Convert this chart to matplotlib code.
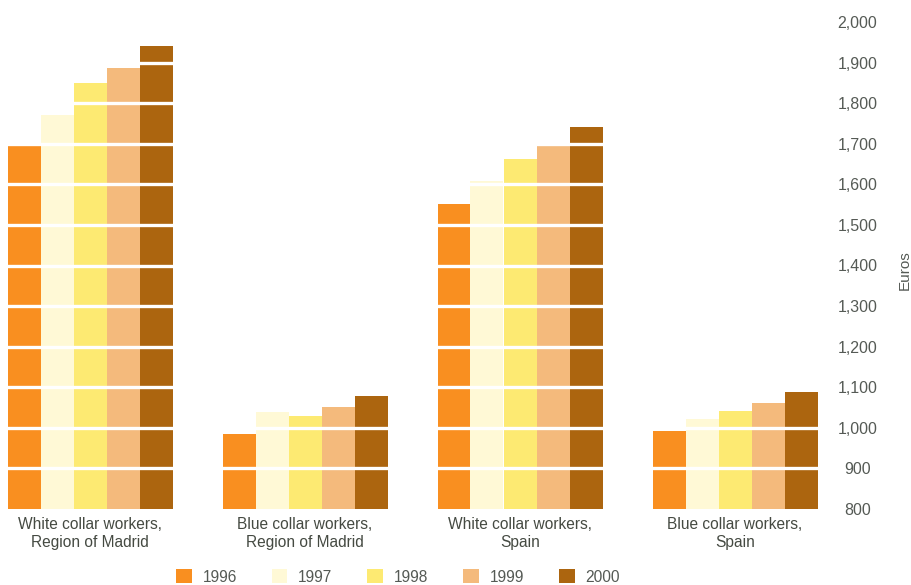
import matplotlib
matplotlib.use("Agg")
import matplotlib.pyplot as plt
import numpy as np

plt.rcParams['font.family'] = ['Liberation Sans', 'DejaVu Sans']

categories = ["White collar workers,\nRegion of Madrid", "Blue collar workers,\nRegion of Madrid",
              "White collar workers,\nSpain", "Blue collar workers,\nSpain"]
years = ["1996", "1997", "1998", "1999", "2000"]
values = {
    "1996": [1697, 985, 1551, 992],
    "1997": [1770, 1039, 1607, 1022],
    "1998": [1849, 1029, 1662, 1041],
    "1999": [1886, 1051, 1699, 1061],
    "2000": [1940, 1078, 1741, 1088],
}
colors = ["#F98F20", "#FFF9D6", "#FDEA72", "#F4BA7C", "#AC650F"]
yticks = [800, 900, 1000, 1100, 1200, 1300, 1400, 1500, 1600, 1700, 1800, 1900, 2000]

W, H = 911, 585
fig = plt.figure(figsize=(W / 100, H / 100), dpi=100)
ax = fig.add_axes([0, (H - 509) / H, 820 / W, (509 - 22) / H])

x = np.arange(len(categories))
bw = 165 / 215 / 5
for i, yr in enumerate(years):
    ax.bar(x + (i - 2) * bw, np.array(values[yr]) - 800, bottom=800, width=bw,
           color=colors[i], label=yr, zorder=2, linewidth=0)

for t in yticks[1:]:
    ax.axhline(t, color="white", lw=2.4, zorder=3)

ax.set_xlim(-90 / 215, 3 + 85 / 215)
ax.set_ylim(800, 2000)
for s in ax.spines.values():
    s.set_visible(False)
ax.yaxis.tick_right()
ax.set_yticks(yticks)
ax.set_yticklabels([f"{v:,}" for v in yticks], color="#555a55", fontsize=11.5)
for lab in ax.get_yticklabels():
    lab.set_horizontalalignment("center")
ax.tick_params(axis="y", length=0, pad=27)
ax.set_xticks(x)
ax.set_xticklabels(categories, color="#454a42", fontsize=11.2, linespacing=1.25)
ax.tick_params(axis="x", length=0, pad=6)

fig.text(905 / W, 1 - 270 / H, "Euros", rotation=90, ha="center", va="center",
         color="#555a55", fontsize=11)

handles, labels = ax.get_legend_handles_labels()
leg = fig.legend(handles, labels, loc="center", bbox_to_anchor=(398 / W, 1 - 577 / H), ncol=5,
                 frameon=False, fontsize=11.2, handlelength=1.0, handleheight=1.0,
                 columnspacing=2.25, handletextpad=0.7, borderaxespad=0)
for t in leg.get_texts():
    t.set_color("#555a55")

fig.savefig("out.png", dpi=100)
